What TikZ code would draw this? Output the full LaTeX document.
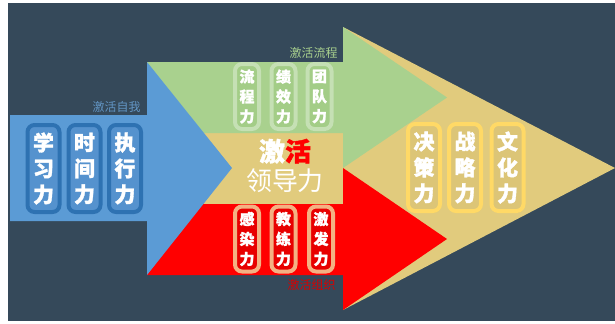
\documentclass[tikz,border=0pt]{standalone}
\usepackage{fontspec}
\newfontfamily\cjk{Noto Sans CJK SC}
\newfontfamily\cjkfett{Noto Sans CJK SC}[BoldFeatures={FakeBold=1.5}]
\usetikzlibrary{shadows}

\definecolor{hinter}{HTML}{35495A}
\definecolor{blau}{HTML}{5B9BD5}
\definecolor{gruen}{HTML}{A9D18E}
\definecolor{gold}{HTML}{E1CB7D}
\definecolor{rot}{HTML}{FF0000}
\definecolor{pillblau}{HTML}{5592CE}
\definecolor{pillblaurand}{HTML}{2E72B2}
\definecolor{pillgruen}{HTML}{A3CD87}
\definecolor{pillgruenrand}{HTML}{C5E0B4}
\definecolor{pillrot}{HTML}{E80000}
\definecolor{pillrotrand}{HTML}{F4B183}
\definecolor{pillgold}{HTML}{DCC577}
\definecolor{pillgoldrand}{HTML}{FFD966}

\tikzset{
    pill/.style={rounded corners=7bp, line width=4bp, text=white, align=center, inner sep=0pt,
        drop shadow={opacity=0.3, shadow xshift=1bp, shadow yshift=-1.5bp}},
    pillgross/.style={pill, minimum width=32bp, minimum height=87bp, font=\cjkfett\bfseries\fontsize{21}{26}\selectfont},
    pillklein/.style={pill, minimum width=24bp, minimum height=65bp, font=\cjkfett\bfseries\fontsize{15}{20}\selectfont},
    beschriftung/.style={anchor=east, font=\cjk\fontsize{12}{12}\selectfont}
}

\begin{document}
\begin{tikzpicture}[x=1bp,y=-1bp]
        \useasboundingbox (0,0) rectangle (615,323);
        \fill[white] (0,0) rectangle (615,323);
        \fill[hinter] (8,3) rectangle (615,321);

        % Pfeile
        \fill[gold] (147,133) -- (343,133) -- (343,27) -- (615,168) -- (343,310) -- (343,204) -- (147,204) -- cycle;
        \fill[gruen] (147,62) -- (343,62) -- (343,27) -- (447,97.5) -- (343,168) -- (343,133) -- (147,133) -- cycle;
        \fill[rot] (147,204) -- (343,204) -- (343,168) -- (447,239) -- (343,310) -- (343,275) -- (147,275) -- cycle;
        \fill[blau] (10,115) -- (147,115) -- (147,62) -- (232,168) -- (147,275) -- (147,221) -- (10,221) -- cycle;

        % Beschriftungen
        \node[beschriftung, text=blau!80!gray] (selbst) at (144,107) {激活自我};
        \node[beschriftung, text=gruen] (prozess) at (341,53) {激活流程};
        \node[beschriftung, text=red!85!black] (organisation) at (339,285) {激活组织};

        % Kern
        \node[text=white, align=center, font=\cjk\fontsize{26}{30}\selectfont] (kern) at (285,166)
            {{\cjkfett\bfseries 激\textcolor{rot}{活}}\\领导力};

        % Faehigkeiten
        \foreach \txt/\xx/\nm in {学\\习\\力/43.5/xuexi, 时\\间\\力/84.5/shijian, 执\\行\\力/125/zhixing}
            \node[pillgross, draw=pillblaurand, fill=pillblau] (\nm) at (\xx,168.5) {\txt};
        \foreach \txt/\xx/\nm in {流\\程\\力/247/liucheng, 绩\\效\\力/283.5/jixiao, 团\\队\\力/319.5/tuandui}
            \node[pillklein, draw=pillgruenrand, fill=pillgruen] (\nm) at (\xx,96.5) {\txt};
        \foreach \txt/\xx/\nm in {感\\染\\力/247/ganran, 教\\练\\力/283.5/jiaolian, 激\\发\\力/321/jifa}
            \node[pillklein, draw=pillrotrand, fill=pillrot] (\nm) at (\xx,239) {\txt};
        \foreach \txt/\xx/\nm in {决\\策\\力/424/juece, 战\\略\\力/465/zhanlue, 文\\化\\力/507.5/wenhua}
            \node[pillgross, draw=pillgoldrand, fill=pillgold] (\nm) at (\xx,167.5) {\txt};
    \end{tikzpicture}
\end{document}
